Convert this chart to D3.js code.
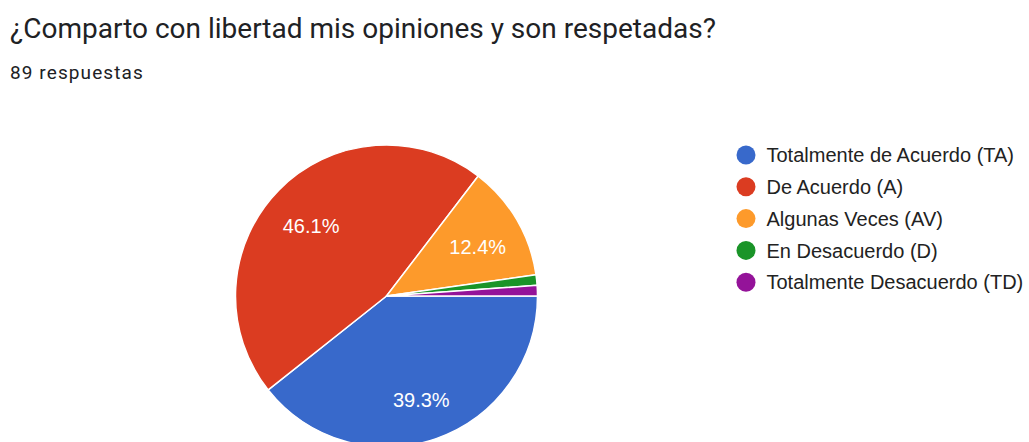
<!DOCTYPE html>
<html>
<head>
<meta charset="utf-8">
<script src="https://cdn.jsdelivr.net/npm/d3@7"></script>
<style>
  html, body { margin: 0; padding: 0; background: #fff; }
  svg { display: block; }
</style>
</head>
<body>
<svg id="chart" width="1029" height="442"></svg>
<script>
// Survey answers
const categories = [
  "Totalmente de Acuerdo (TA)",
  "De Acuerdo (A)",
  "Algunas Veces (AV)",
  "En Desacuerdo (D)",
  "Totalmente Desacuerdo (TD)"
];
const counts = [35, 41, 11, 1, 1];
const colors = ["#3869cb", "#db3c21", "#fd9a2b", "#1a9428", "#941399"];
const title = "¿Comparto con libertad mis opiniones y son respetadas?";
const subtitle = "89 respuestas";

const svg = d3.select("#chart");
const total = d3.sum(counts);
const data = categories.map((c, i) => ({ name: c, value: counts[i], color: colors[i] }));

svg.append("text")
  .attr("x", 10).attr("y", 38)
  .attr("font-family", "Roboto, 'Noto Sans', sans-serif")
  .attr("font-size", 28)
  .attr("fill", "#202124")
  .text(title);

svg.append("text")
  .attr("x", 10).attr("y", 79)
  .attr("font-family", "Roboto, 'Noto Sans', sans-serif")
  .attr("font-size", 19)
  .attr("letter-spacing", 1.1)
  .attr("fill", "#202124")
  .text(subtitle);

// Pie starts at 3 o'clock and runs clockwise
const cx = 386.5, cy = 296, r = 151;
const pie = d3.pie().value(d => d.value).sort(null)
  .startAngle(Math.PI / 2).endAngle(Math.PI / 2 + 2 * Math.PI);
const arcs = pie(data);
const arc = d3.arc().innerRadius(0).outerRadius(r);
const labelArc = d3.arc().innerRadius(r * 0.7).outerRadius(r * 0.7);

const g = svg.append("g").attr("transform", `translate(${cx},${cy})`);
g.selectAll("path.slice")
  .data(arcs)
  .join("path")
  .attr("class", "slice")
  .attr("d", arc)
  .attr("fill", d => d.data.color)
  .attr("stroke", "#fff")
  .attr("stroke-width", 1.5)
  .attr("stroke-linejoin", "round");

g.selectAll("text.pct")
  .data(arcs.filter(d => d.data.value / total > 0.05))
  .join("text")
  .attr("class", "pct")
  .attr("transform", d => {
    const [x, y] = labelArc.centroid(d);
    return `translate(${x},${y + 4})`;
  })
  .attr("text-anchor", "middle")
  .attr("dy", "0.36em")
  .attr("font-family", "'Liberation Sans', Arial, sans-serif")
  .attr("font-size", 20)
  .attr("fill", "#fff")
  .text(d => (d.data.value / total * 100).toFixed(1) + "%");

// Legend
const legend = svg.append("g").attr("transform", "translate(746,155)");
const item = legend.selectAll("g.item")
  .data(data)
  .join("g")
  .attr("class", "item")
  .attr("transform", (d, i) => `translate(0,${i * 31.8})`);
item.append("circle").attr("r", 9.5).attr("fill", d => d.color);
item.append("text")
  .attr("x", 20.5).attr("dy", "0.36em")
  .attr("font-family", "'Liberation Sans', Arial, sans-serif")
  .attr("font-size", 20)
  .attr("fill", "#222")
  .text(d => d.name);
</script>
</body>
</html>
